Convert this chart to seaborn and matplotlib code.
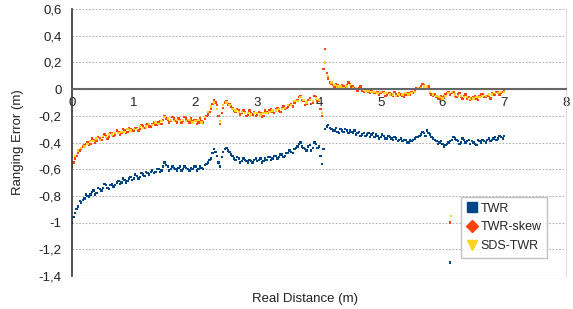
import numpy as np
import pandas as pd
import matplotlib
matplotlib.use("Agg")
import matplotlib.pyplot as plt
from matplotlib.lines import Line2D
from matplotlib.ticker import FuncFormatter
import seaborn as sns

# Real distance (m), one reading every 0.05 m from 0 to 7
distance = np.round(np.arange(0, 7.0001, 0.05), 2)
# extra readings taken half-way between the above
distance_mid = np.round(np.arange(0.025, 7.0, 0.05), 3)

twr = [
    -1.00, -0.93, -0.88, -0.85, -0.82, -0.80, -0.79, -0.76, -0.78, -0.75,
    -0.74, -0.72, -0.75, -0.71, -0.72, -0.69, -0.70, -0.68, -0.69, -0.66,
    -0.67, -0.65, -0.66, -0.64, -0.62, -0.64, -0.61, -0.62, -0.60, -0.61,
    -0.55, -0.58, -0.60, -0.59, -0.61, -0.58, -0.60, -0.59, -0.61, -0.60,
    -0.58, -0.60, -0.59, -0.57, -0.55, -0.52, -0.45, -0.50, -0.58, -0.47,
    -0.44, -0.47, -0.50, -0.53, -0.52, -0.54, -0.53, -0.55, -0.54, -0.53,
    -0.54, -0.52, -0.54, -0.53, -0.51, -0.52, -0.50, -0.51, -0.49, -0.50,
    -0.48, -0.47, -0.45, -0.43, -0.40, -0.44, -0.46, -0.42, -0.44, -0.41,
    -0.43, -0.56, -0.30, -0.27, -0.30, -0.31, -0.32, -0.30, -0.32, -0.31,
    -0.31, -0.33, -0.34, -0.32, -0.34, -0.35, -0.33, -0.34, -0.36, -0.35,
    -0.36, -0.35, -0.37, -0.36, -0.38, -0.37, -0.38, -0.39, -0.38, -0.40,
    -0.39, -0.37, -0.36, -0.34, -0.33, -0.31, -0.34, -0.37, -0.39, -0.40,
    -0.41, -0.42, -0.40, -0.38, -0.37, -0.39, -0.40, -0.38, -0.39, -0.41,
    -0.40, -0.42, -0.39, -0.38, -0.40, -0.37, -0.38, -0.36, -0.37, -0.36,
    -0.35,
]

twr_mid = [
    -0.96, -0.90, -0.84, -0.83, -0.79, -0.81, -0.77, -0.79, -0.74, -0.76,
    -0.71, -0.74, -0.72, -0.73, -0.70, -0.71, -0.67, -0.70, -0.67, -0.68,
    -0.64, -0.67, -0.63, -0.65, -0.63, -0.62, -0.63, -0.60, -0.62, -0.58,
    -0.57, -0.61, -0.58, -0.60, -0.59, -0.61, -0.58, -0.60, -0.59, -0.58,
    -0.61, -0.58, -0.60, -0.56, -0.53, -0.48, -0.47, -0.55, -0.51, -0.45,
    -0.46, -0.49, -0.52, -0.51, -0.55, -0.52, -0.54, -0.53, -0.55, -0.52,
    -0.53, -0.55, -0.52, -0.51, -0.53, -0.50, -0.52, -0.49, -0.51, -0.48,
    -0.46, -0.48, -0.44, -0.41, -0.43, -0.45, -0.43, -0.46, -0.40, -0.44,
    -0.50, -0.45, -0.28, -0.29, -0.31, -0.29, -0.33, -0.31, -0.30, -0.33,
    -0.32, -0.31, -0.33, -0.35, -0.33, -0.34, -0.36, -0.33, -0.34, -0.37,
    -0.34, -0.37, -0.35, -0.37, -0.36, -0.39, -0.37, -0.38, -0.40, -0.38,
    -0.38, -0.36, -0.35, -0.32, -0.35, -0.33, -0.36, -0.38, -0.41, -0.39,
    -0.43, -0.41, -0.39, -0.36, -0.38, -0.41, -0.37, -0.40, -0.38, -0.39,
    -0.41, -0.38, -0.40, -0.39, -0.38, -0.39, -0.37, -0.38, -0.35, -0.37,
]

twr_skew = [
    -0.58, -0.52, -0.48, -0.45, -0.42, -0.40, -0.41, -0.38, -0.39, -0.37,
    -0.36, -0.35, -0.36, -0.33, -0.34, -0.32, -0.33, -0.31, -0.32, -0.30,
    -0.31, -0.29, -0.30, -0.28, -0.27, -0.28, -0.26, -0.27, -0.25, -0.26,
    -0.20, -0.23, -0.24, -0.22, -0.25, -0.23, -0.24, -0.22, -0.25, -0.24,
    -0.23, -0.25, -0.24, -0.22, -0.19, -0.15, -0.08, -0.12, -0.26, -0.14,
    -0.09, -0.11, -0.14, -0.17, -0.16, -0.18, -0.17, -0.19, -0.18, -0.17,
    -0.19, -0.18, -0.20, -0.17, -0.16, -0.17, -0.15, -0.16, -0.14, -0.15,
    -0.13, -0.11, -0.10, -0.08, -0.05, -0.09, -0.11, -0.07, -0.10, -0.06,
    -0.09, -0.20, 0.30, 0.08, 0.04, 0.02, 0.03, 0.01, 0.02, 0.03,
    0.04, 0.02, 0.00, 0.01, -0.01, 0.00, -0.02, -0.01, -0.03, -0.02,
    -0.03, -0.02, -0.04, -0.03, -0.05, -0.04, -0.03, -0.05, -0.04, -0.03,
    -0.02, -0.01, 0.00, 0.02, 0.03, 0.01, -0.03, -0.05, -0.06, -0.07,
    -0.06, -0.04, -0.02, -0.03, -0.05, -0.04, -0.06, -0.05, -0.07, -0.08,
    -0.06, -0.07, -0.05, -0.04, -0.06, -0.05, -0.03, -0.04, -0.02, -0.03,
    -0.01,
]

twr_skew_mid = [
    -0.55, -0.50, -0.46, -0.43, -0.41, -0.42, -0.37, -0.40, -0.36, -0.38,
    -0.34, -0.37, -0.33, -0.35, -0.31, -0.34, -0.30, -0.33, -0.29, -0.31,
    -0.29, -0.31, -0.27, -0.29, -0.26, -0.28, -0.25, -0.27, -0.24, -0.23,
    -0.22, -0.25, -0.21, -0.24, -0.22, -0.25, -0.21, -0.24, -0.22, -0.23,
    -0.26, -0.22, -0.25, -0.20, -0.17, -0.11, -0.10, -0.20, -0.18, -0.10,
    -0.12, -0.13, -0.16, -0.15, -0.19, -0.16, -0.20, -0.16, -0.19, -0.20,
    -0.17, -0.21, -0.16, -0.18, -0.15, -0.18, -0.14, -0.17, -0.13, -0.14,
    -0.12, -0.13, -0.09, -0.06, -0.08, -0.12, -0.08, -0.11, -0.05, -0.09,
    -0.15, 0.15, 0.12, 0.05, 0.03, 0.04, 0.00, 0.03, 0.01, 0.05,
    0.02, 0.01, -0.01, 0.02, -0.02, -0.01, -0.03, 0.00, -0.02, -0.04,
    -0.02, -0.05, -0.03, -0.04, -0.02, -0.05, -0.04, -0.06, -0.03, -0.04,
    -0.03, 0.01, 0.01, 0.04, 0.00, 0.02, -0.04, -0.04, -0.07, -0.05,
    -0.05, -0.03, -0.04, -0.02, -0.06, -0.03, -0.07, -0.04, -0.06, -0.07,
    -0.05, -0.08, -0.04, -0.06, -0.05, -0.07, -0.04, -0.02, -0.04, -0.02,
]

sds_twr = [
    -0.56, -0.50, -0.46, -0.44, -0.43, -0.41, -0.39, -0.39, -0.37, -0.38,
    -0.35, -0.36, -0.34, -0.34, -0.33, -0.33, -0.32, -0.32, -0.30, -0.31,
    -0.30, -0.30, -0.28, -0.29, -0.28, -0.26, -0.27, -0.25, -0.26, -0.24,
    -0.21, -0.22, -0.23, -0.24, -0.23, -0.24, -0.23, -0.24, -0.23, -0.25,
    -0.24, -0.23, -0.25, -0.21, -0.17, -0.13, -0.10, -0.15, -0.24, -0.12,
    -0.10, -0.12, -0.15, -0.16, -0.17, -0.17, -0.18, -0.18, -0.19, -0.18,
    -0.18, -0.19, -0.18, -0.18, -0.17, -0.16, -0.16, -0.15, -0.15, -0.14,
    -0.12, -0.12, -0.09, -0.09, -0.06, -0.08, -0.10, -0.08, -0.09, -0.07,
    -0.08, -0.18, 0.20, 0.10, 0.05, 0.03, 0.02, 0.02, 0.01, 0.02,
    0.03, 0.01, 0.01, 0.00, 0.00, -0.01, -0.01, -0.02, -0.02, -0.03,
    -0.02, -0.03, -0.03, -0.04, -0.04, -0.05, -0.04, -0.04, -0.03, -0.04,
    -0.03, -0.02, 0.01, 0.01, 0.02, 0.02, -0.02, -0.04, -0.05, -0.06,
    -0.07, -0.05, -0.03, -0.02, -0.04, -0.05, -0.05, -0.06, -0.06, -0.07,
    -0.07, -0.06, -0.06, -0.05, -0.05, -0.04, -0.04, -0.03, -0.03, -0.02,
    -0.02,
]

# a few stray readings near 6.1 m
outlier_x = [6.12, 6.14, 6.12]
outlier_y = [-1.30, -0.95, -1.00]
outlier_series = ["TWR", "SDS-TWR", "TWR-skew"]

series_names = ["TWR", "TWR-skew", "SDS-TWR"]
colors = {"TWR": "#004586", "TWR-skew": "#ff420e", "SDS-TWR": "#ffd320"}
legend_markers = {"TWR": "s", "TWR-skew": "D", "SDS-TWR": "v"}

df = pd.concat([
    pd.DataFrame({"distance": distance, "error": twr, "series": "TWR"}),
    pd.DataFrame({"distance": distance_mid, "error": twr_mid, "series": "TWR"}),
    pd.DataFrame({"distance": distance, "error": twr_skew, "series": "TWR-skew"}),
    pd.DataFrame({"distance": distance_mid, "error": twr_skew_mid, "series": "TWR-skew"}),
    pd.DataFrame({"distance": distance, "error": sds_twr, "series": "SDS-TWR"}),
    pd.DataFrame({"distance": outlier_x, "error": outlier_y, "series": outlier_series}),
])

sns.set_style("white")
plt.rcParams["font.family"] = ["Liberation Sans", "DejaVu Sans"]

fig = plt.figure(figsize=(5.73, 3.09), dpi=100)
ax = fig.add_axes([72 / 573, 1 - 276 / 309, 494 / 573, 267 / 309])

sns.scatterplot(data=df, x="distance", y="error", hue="series",
                hue_order=series_names, palette=colors, marker="s",
                s=3, linewidth=0, legend=False, ax=ax)

ax.set_xlim(0, 8)
ax.set_ylim(-1.4, 0.6)
ax.set_xticks(range(0, 9))
ax.set_yticks(np.round(np.arange(-1.4, 0.61, 0.2), 1))

fmt = FuncFormatter(lambda v, p: ("%g" % (round(v, 1) + 0.0)).replace(".", ","))
ax.xaxis.set_major_formatter(fmt)
ax.yaxis.set_major_formatter(fmt)

ax.grid(axis="y", color="#b3b3b3", linestyle=(0, (1.5, 1.5)), linewidth=0.8)
ax.set_axisbelow(True)

ax.spines["bottom"].set_position(("data", 0))
ax.spines["bottom"].set_color("#666666")
ax.spines["bottom"].set_linewidth(1.5)
ax.spines["left"].set_color("#333333")
ax.spines["left"].set_linewidth(1.2)
ax.spines["top"].set_visible(False)
ax.spines["right"].set_color("#dddddd")
ax.spines["right"].set_linewidth(0.8)

ax.tick_params(axis="both", direction="out", length=4, width=1,
               colors="#333333", labelsize=9.5, labelcolor="#222222")
ax.tick_params(axis="x", pad=2)

ax.set_xlabel("Real Distance (m)", fontsize=9.5, color="#222222")
ax.set_ylabel("Ranging Error (m)", fontsize=9.5, color="#222222")
ax.xaxis.set_label_coords(0.472, -0.062)
ax.yaxis.set_label_coords(-0.097, 0.5)

handles = [Line2D([], [], linestyle="none", marker=legend_markers[n],
                  color=colors[n], markersize=7 if n != "TWR-skew" else 6)
           for n in series_names]
leg = fig.legend(handles, series_names, loc="upper left",
                 bbox_to_anchor=(461 / 573, 1 - 197 / 309), frameon=True,
                 fancybox=False, fontsize=9, handlelength=0.8,
                 handletextpad=0.3, borderpad=0.45, labelspacing=0.55,
                 borderaxespad=0)
leg.get_frame().set_edgecolor("#b3b3b3")
leg.get_frame().set_linewidth(1)

fig.savefig("out.png", dpi=100)
